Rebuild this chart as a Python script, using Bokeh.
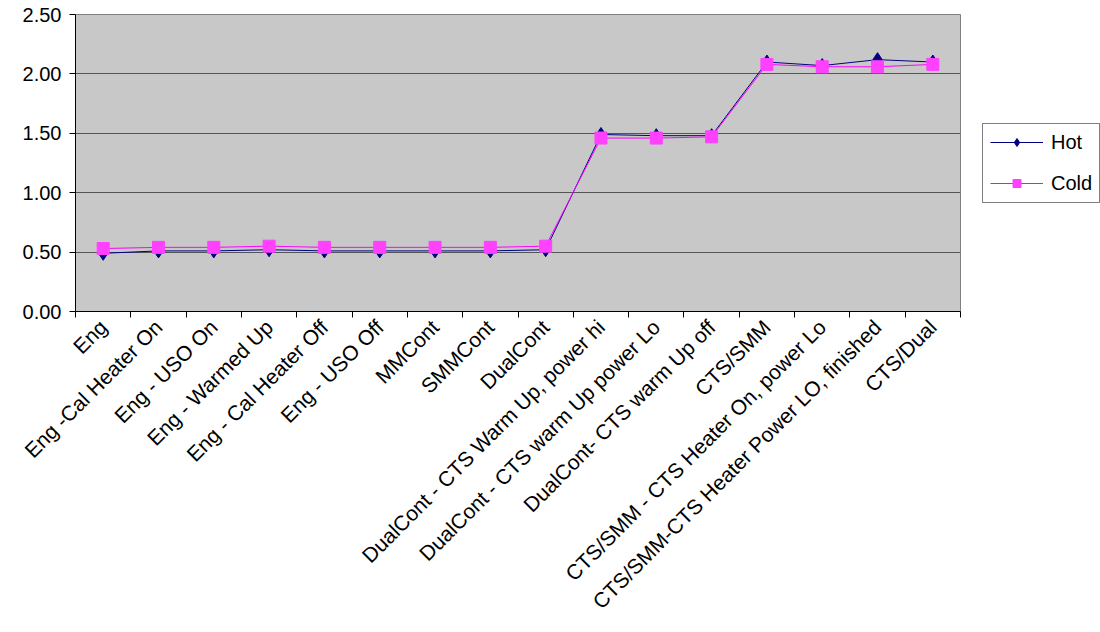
from math import pi
from bokeh.plotting import figure
from bokeh.models import FixedTicker, Legend, LegendItem, Range1d, NumeralTickFormatter
from bokeh.embed import file_html
from bokeh.resources import INLINE

categories = ["Eng", "Eng -Cal Heater On", "Eng - USO On", "Eng - Warmed Up",
              "Eng - Cal Heater Off", "Eng - USO Off", "MMCont", "SMMCont", "DualCont",
              "DualCont - CTS Warm Up, power hi", "DualCont - CTS warm Up power Lo",
              "DualCont- CTS warm Up off", "CTS/SMM", "CTS/SMM - CTS Heater On, power Lo",
              "CTS/SMM-CTS Heater Power LO, finished", "CTS/Dual"]
hot = [0.49, 0.51, 0.51, 0.52, 0.51, 0.51, 0.51, 0.51, 0.52,
       1.49, 1.48, 1.48, 2.10, 2.07, 2.12, 2.10]
cold = [0.53, 0.54, 0.54, 0.55, 0.54, 0.54, 0.54, 0.54, 0.55,
        1.46, 1.46, 1.47, 2.08, 2.06, 2.06, 2.08]
y_ticks = [0.0, 0.5, 1.0, 1.5, 2.0, 2.5]
series_names = ["Hot", "Cold"]

n = len(categories)
xs = [i + 0.5 for i in range(n)]

FONT = "Liberation Sans"
HOT_C = "#000080"
COLD_C = "#ff00ff"
COLD_M = "#ff40ff"

p = figure(frame_width=885, frame_height=297, output_backend="svg", toolbar_location=None,
           x_range=Range1d(0, n), y_range=Range1d(0, 2.5),
           min_border_left=75, min_border_top=14, min_border_right=10, min_border_bottom=321)
p.background_fill_color = "#c8c8c8"
p.border_fill_color = "white"
p.outline_line_color = "#808080"

p.xgrid.visible = False
p.ygrid.ticker = FixedTicker(ticks=y_ticks)
p.ygrid.grid_line_color = "#555555"
p.ygrid.grid_line_width = 1

p.yaxis.ticker = FixedTicker(ticks=y_ticks)
p.yaxis.formatter = NumeralTickFormatter(format="0.00")
p.yaxis.minor_tick_line_color = None
p.yaxis.major_tick_in = 0
p.yaxis.major_tick_out = 6
p.yaxis.axis_line_color = "black"
p.yaxis.major_label_text_font = FONT
p.yaxis.major_label_text_font_size = "20px"
p.yaxis.major_label_text_color = "black"
p.yaxis.major_label_standoff = 8

p.xaxis.ticker = FixedTicker(ticks=xs, minor_ticks=list(range(n + 1)))
p.xaxis.major_label_overrides = {x: c for x, c in zip(xs, categories)}
p.xaxis.major_tick_in = 0
p.xaxis.major_tick_out = 0
p.xaxis.minor_tick_in = 0
p.xaxis.minor_tick_out = 6
p.xaxis.minor_tick_line_color = "black"
p.xaxis.axis_line_color = "black"
p.xaxis.major_label_orientation = pi / 4
p.xaxis.major_label_text_font = FONT
p.xaxis.major_label_text_font_size = "21px"
p.xaxis.major_label_text_color = "black"
p.xaxis.major_label_standoff = 6

hl = p.line(xs, hot, line_color=HOT_C, line_width=1)
hm = p.scatter(xs, hot, marker="diamond", size=14, fill_color=HOT_C, line_color=HOT_C)
cl = p.line(xs, cold, line_color=COLD_C, line_width=1)
cm = p.scatter(xs, cold, marker="square", size=12, fill_color=COLD_M, line_color=COLD_M)

legend = Legend(items=[LegendItem(label=series_names[0], renderers=[hl, hm]),
                       LegendItem(label=series_names[1], renderers=[cl, cm])],
                location="left")
legend.border_line_color = "black"
legend.border_line_width = 1
legend.background_fill_color = "white"
legend.label_text_font = FONT
legend.label_text_font_size = "20px"
legend.label_text_color = "black"
legend.glyph_width = 53
legend.glyph_height = 20
legend.label_height = 20
legend.spacing = 18
legend.padding = 7
legend.margin = 22
legend.label_standoff = 8
p.add_layout(legend, "right")

open("out.html", "w").write(file_html(p, INLINE))
